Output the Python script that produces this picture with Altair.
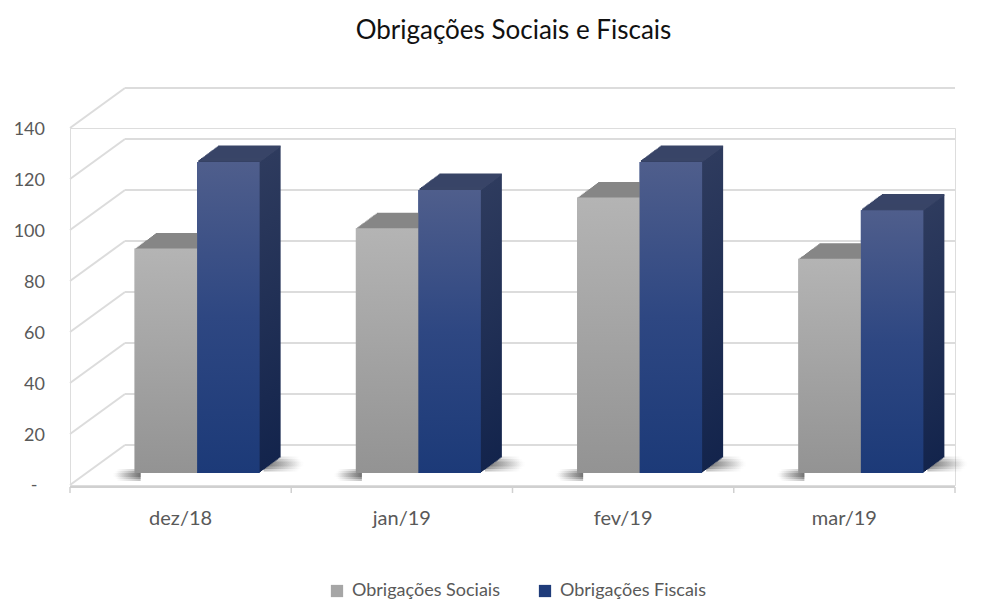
import altair as alt
import pandas as pd

# ---------------- data ----------------
categorias = ["dez/18", "jan/19", "fev/19", "mar/19"]
obrig_sociais = [88, 96, 108, 84]
obrig_fiscais = [122, 111, 122, 103]
y_ticks = [0, 20, 40, 60, 80, 100, 120, 140]
y_tick_labels = ["-", "20", "40", "60", "80", "100", "120", "140"]
series_names = ["Obrigações Sociais", "Obrigações Fiscais"]
titulo = "Obrigações Sociais e Fiscais"

# ---------------- layout / style ----------------
W, H = 885, 357
FONT = "Lato"
TXT = "#595959"
GRID = "#dcdcdc"
BAR_W = 0.2825          # bar width in category units
BACK_DX, BACK_DY = 55, -40      # oblique offset of back wall (px)
BAR_DX, BAR_DY = 16.5, -12      # bar front plane offset (px)
DEP_DX, DEP_DY = 21, -15.5      # bar depth (px)
N = 16                          # sweep steps for 3D faces

rows = []
for i, c in enumerate(categorias):
    rows.append(dict(cat=c, serie=series_names[0], v=obrig_sociais[i],
                     x0=i + 0.5 - BAR_W, x1=i + 0.5, xc=i + 0.5, z=0))
    rows.append(dict(cat=c, serie=series_names[1], v=obrig_fiscais[i],
                     x0=i + 0.5, x1=i + 0.5 + BAR_W, xc=i + 0.5, z=0))
df = pd.DataFrame(rows)
soc = df[df.serie == series_names[0]]
fis = df[df.serie == series_names[1]]

grid_df = pd.DataFrame({"v": y_ticks, "lab": y_tick_labels,
                        "a": 0, "b": len(categorias)})
bounds_df = pd.DataFrame({"b": list(range(len(categorias) + 1)), "z": 0})
cat_df = pd.DataFrame({"cat": categorias,
                       "xc": [i + 0.5 for i in range(len(categorias))], "z": 0})
title_df = pd.DataFrame({"t": [titulo]})

xs = alt.Scale(domain=[0, len(categorias)], nice=False, zero=False)
ys = alt.Scale(domain=[y_ticks[0], y_ticks[-1]], nice=False, zero=True)


def X(f):
    return alt.X(f, type="quantitative", scale=xs, axis=None)


def Y(f):
    return alt.Y(f, type="quantitative", scale=ys, axis=None, stack=None)


def grad_v(c0, c1, mid=None):
    stops = [alt.GradientStop(color=c0, offset=0)]
    if mid:
        stops.append(alt.GradientStop(color=mid[0], offset=mid[1]))
    stops.append(alt.GradientStop(color=c1, offset=1))
    return alt.Gradient(gradient="linear", stops=stops, x1=0, y1=0, x2=0, y2=1)


def grad_h(c0, c1):
    return alt.Gradient(gradient="linear",
                        stops=[alt.GradientStop(color=c0, offset=0),
                               alt.GradientStop(color=c1, offset=1)],
                        x1=0, y1=0, x2=1, y2=0)


GREY_FRONT = grad_v("#b4b4b4", "#939393")
GREY_TOP = "#868686"
BLUE_FRONT = grad_v("#4f5e8c", "#1c3a78", ("#2e4782", 0.5))
BLUE_SIDE = grad_v("#2e3b5e", "#13244c")
BLUE_TOP = "#394567"
SH_ON = "rgba(40,40,40,0.30)"
SH_OFF = "rgba(80,80,80,0)"

layers = []

# back wall gridlines
layers.append(alt.Chart(grid_df).mark_rule(
    color=GRID, strokeWidth=2, xOffset=BACK_DX, x2Offset=0,
    yOffset=BACK_DY, y2Offset=BACK_DY).encode(
    x=X("a"), x2="b:Q", y=Y("v"), y2="v:Q"))
# side wall diagonals
layers.append(alt.Chart(grid_df).mark_rule(
    color=GRID, strokeWidth=2, xOffset=0, x2Offset=BACK_DX,
    yOffset=0, y2Offset=BACK_DY).encode(
    x=X("a"), x2="a:Q", y=Y("v"), y2="v:Q"))
# front floor edge (category axis line)
layers.append(alt.Chart(grid_df[grid_df.v == y_ticks[0]]).mark_rule(
    color="#d0d0d0", strokeWidth=2, yOffset=2, y2Offset=2).encode(
    x=X("a"), x2="b:Q", y=Y("v"), y2="v:Q"))
# category ticks
layers.append(alt.Chart(bounds_df).mark_rule(
    color="#d0d0d0", strokeWidth=1.5, yOffset=2, y2Offset=8).encode(
    x=X("b"), y=Y("z"), y2="z:Q"))

# title
layers.append(alt.Chart(title_df).mark_text(
    align="center", baseline="alphabetic", font=FONT, fontSize=26,
    color="#111111").encode(x=alt.value(W / 2 + 1), y=alt.value(-89), text="t:N"))

# y labels
layers.append(alt.Chart(grid_df[grid_df.v != y_ticks[0]]).mark_text(
    align="right", baseline="middle", dx=-25, dy=2, font=FONT,
    fontSize=18, color=TXT).encode(x=X("a"), y=Y("v"), text="lab:N"))
layers.append(alt.Chart(grid_df[grid_df.v == y_ticks[0]]).mark_text(
    align="center", baseline="middle", dx=-36, dy=1, font=FONT,
    fontSize=18, color=TXT).encode(x=X("a"), y=Y("v"), text="lab:N"))
# x labels
layers.append(alt.Chart(cat_df).mark_text(
    align="center", baseline="middle", dy=34, font=FONT,
    fontSize=20, color=TXT).encode(x=X("xc"), y=Y("z"), text="cat:N"))

# soft floor shadows (stacked translucent bands)
for h in (2, 4, 6):
    cy = BAR_DY + 2          # left shadow centre (px, relative to floor)
    layers.append(alt.Chart(soc).mark_bar(
        color=grad_h(SH_OFF, SH_ON),
        xOffset=BAR_DX - 24 + h, x2Offset=BAR_DX + 6,
        yOffset=cy + h, y2Offset=cy - h).encode(
        x=X("x0"), x2="x0:Q", y=Y("z"), y2="z:Q"))
for h in (2.5, 5, 7.5):
    cy = BAR_DY - 9          # right shadow centre
    layers.append(alt.Chart(fis).mark_bar(
        color=grad_h(SH_ON, SH_OFF),
        xOffset=BAR_DX + 4, x2Offset=BAR_DX + DEP_DX + 26 - h,
        yOffset=cy + h, y2Offset=cy - h).encode(
        x=X("x1"), x2="x1:Q", y=Y("z"), y2="z:Q"))

# flat layer that carries the legend (hidden under gradient faces)
layers.append(alt.Chart(df).mark_bar(
    xOffset=BAR_DX, x2Offset=BAR_DX, yOffset=BAR_DY, y2Offset=BAR_DY).encode(
    x=X("x0"), x2="x1:Q", y=Y("v"), y2="z:Q",
    color=alt.Color("serie:N",
                    scale=alt.Scale(domain=series_names,
                                    range=["#a6a6a6", "#1f3c7a"]),
                    legend=alt.Legend(
                        orient="none", legendX=258, legendY=454,
                        direction="horizontal", title=None,
                        symbolType="square", symbolSize=150,
                        symbolStrokeWidth=0, labelFont=FONT,
                        labelFontSize=18, labelColor=TXT,
                        columnPadding=36, labelOffset=6))))


def bar_layer(data, color, ox, oy):
    return alt.Chart(data).mark_bar(
        color=color, xOffset=ox, x2Offset=ox, yOffset=oy, y2Offset=oy).encode(
        x=X("x0"), x2="x1:Q", y=Y("v"), y2="z:Q")


def top_rule(data, color, ox, oy):
    return alt.Chart(data).mark_rule(
        color=color, strokeWidth=1.8, xOffset=ox, x2Offset=ox,
        yOffset=oy, y2Offset=oy).encode(
        x=X("x0"), x2="x1:Q", y=Y("v"), y2="v:Q")


# grey bars: extrusion then front
for k in range(N, 0, -1):
    f = k / N
    layers.append(bar_layer(soc, GREY_TOP, BAR_DX + f * DEP_DX, BAR_DY + f * DEP_DY))
layers.append(bar_layer(soc, GREY_FRONT, BAR_DX, BAR_DY))

# blue bars: side extrusion, top sweep, front
for k in range(N, 0, -1):
    f = k / N
    layers.append(bar_layer(fis, BLUE_SIDE, BAR_DX + f * DEP_DX, BAR_DY + f * DEP_DY))
for k in range(N, 0, -1):
    f = k / N
    layers.append(top_rule(fis, BLUE_TOP, BAR_DX + f * DEP_DX, BAR_DY + f * DEP_DY))
layers.append(bar_layer(fis, BLUE_FRONT, BAR_DX, BAR_DY))

chart = alt.layer(*layers).properties(
    width=W, height=H,
    autosize=alt.AutoSizeParams(type="none"),
    padding={"left": 62, "top": 120, "right": 30, "bottom": 116},
).configure_view(stroke=None).configure(background="white")

chart.save("out.html", embed_options={"renderer": "svg", "actions": False})
